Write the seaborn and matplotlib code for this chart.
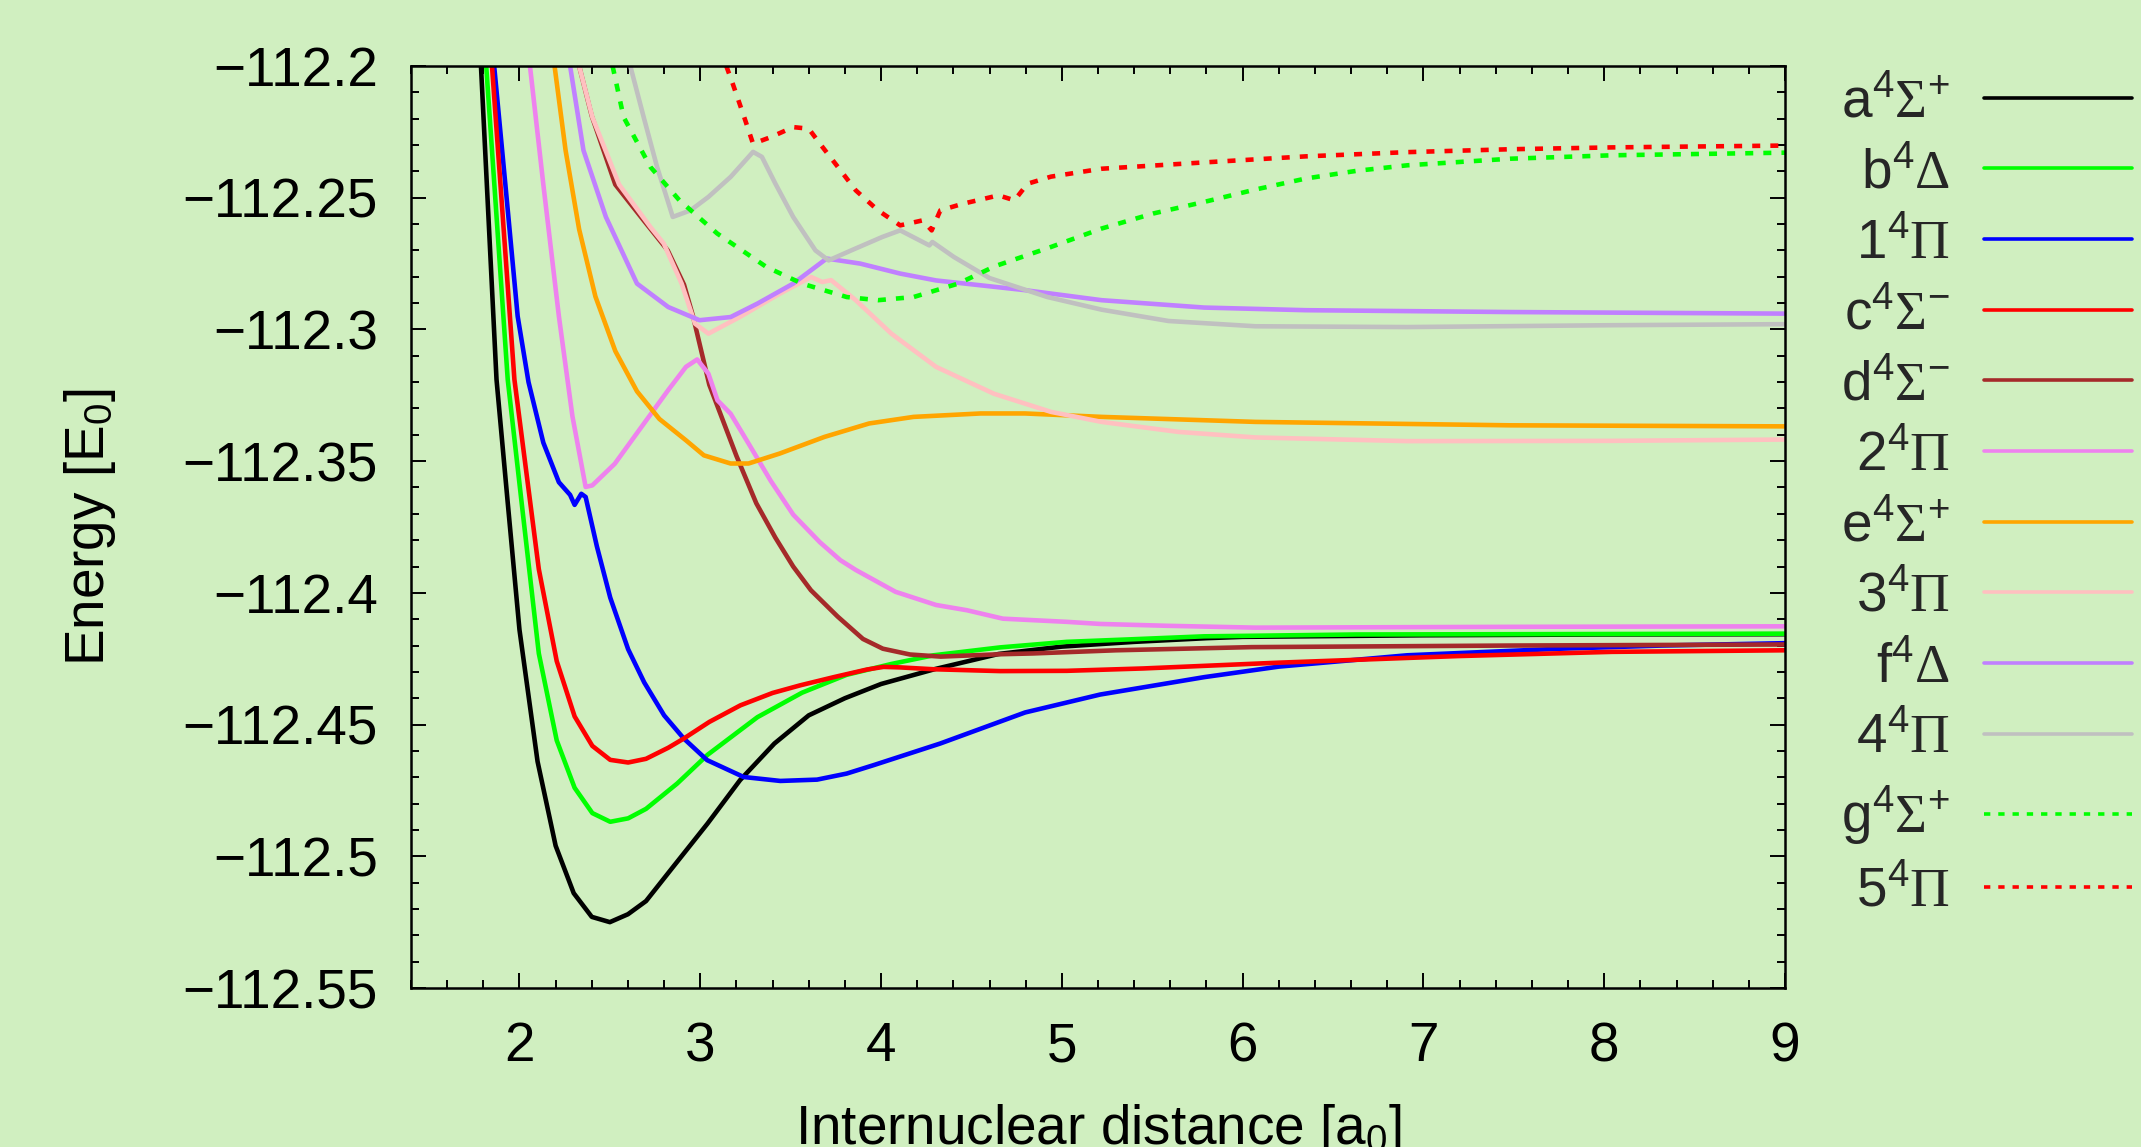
import matplotlib

matplotlib.use("Agg")
import matplotlib.pyplot as plt
import matplotlib.ticker as mticker
import seaborn as sns

# key labels, in the order gnuplot draws them
labels = [
    r"a$^{\mathsf{4}}\Sigma^{\mathsf{+}}$",
    r"b$^{\mathsf{4}}\Delta$",
    r"1$^{\mathsf{4}}\Pi$",
    r"c$^{\mathsf{4}}\Sigma^{\mathsf{-}}$",
    r"d$^{\mathsf{4}}\Sigma^{\mathsf{-}}$",
    r"2$^{\mathsf{4}}\Pi$",
    r"e$^{\mathsf{4}}\Sigma^{\mathsf{+}}$",
    r"3$^{\mathsf{4}}\Pi$",
    r"f$^{\mathsf{4}}\Delta$",
    r"4$^{\mathsf{4}}\Pi$",
    r"g$^{\mathsf{4}}\Sigma^{\mathsf{+}}$",
    r"5$^{\mathsf{4}}\Pi$",
]
colors = ["#000000", "#00ff00", "#0000ff", "#ff0000", "#a52a2a", "#ee82ee",
          "#ffa500", "#ffc0c0", "#c080ff", "#c0c0c0", "#00ff00", "#ff0000"]
dotted = [False] * 10 + [True, True]

# potential energy curves (r in a0, E in hartree)
a_r = [1.787, 1.873, 1.934, 2.0, 2.1, 2.2, 2.3, 2.4, 2.5, 2.6, 2.7, 2.85, 3.04, 3.22,
       3.41, 3.6, 3.8, 4.0, 4.3, 4.65, 5.0, 5.4, 5.8, 6.0, 7.0, 8.0, 9.0]
a_e = [-112.200, -112.319, -112.365, -112.414, -112.464, -112.496, -112.514, -112.523,
       -112.525, -112.522, -112.517, -112.504, -112.4876, -112.4711, -112.4572,
       -112.4465, -112.4400, -112.4346, -112.4289, -112.4232, -112.4204, -112.4186,
       -112.4172, -112.4167, -112.4161, -112.4158, -112.4157]

b_r = [1.816, 1.935, 2.009, 2.107, 2.206, 2.305, 2.403, 2.502, 2.601, 2.70, 2.872,
       3.04, 3.316, 3.563, 3.81, 4.057, 4.29, 4.659, 5.027, 5.396, 5.787, 6.04, 6.63, 9.0]
b_e = [-112.200, -112.319, -112.364, -112.423, -112.456, -112.474, -112.4836, -112.4869,
       -112.4856, -112.4820, -112.4724, -112.4615, -112.4472, -112.4379, -112.4311,
       -112.4270, -112.4237, -112.4207, -112.4186, -112.4176, -112.4165, -112.4163,
       -112.4158, -112.4155]

p1_r = [1.86, 1.922, 1.99, 2.05, 2.132, 2.218, 2.28, 2.305, 2.342, 2.366, 2.428, 2.502,
        2.601, 2.69, 2.80, 2.909, 3.038, 3.24, 3.443, 3.646, 3.81, 3.959, 4.327,
        4.797, 5.212, 5.787, 6.2, 6.91, 7.76, 8.32, 9.0]
p1_e = [-112.200, -112.245, -112.295, -112.320, -112.343, -112.358, -112.3628, -112.3666,
        -112.3624, -112.3636, -112.3823, -112.4018, -112.4214, -112.4340, -112.4465,
        -112.4553, -112.4635, -112.4699, -112.4714, -112.4709, -112.4686, -112.4654,
        -112.4572, -112.4454, -112.4386, -112.4320, -112.4280, -112.4237, -112.4212,
        -112.4200, -112.4191]

c_r = [1.848, 1.972, 2.107, 2.206, 2.305, 2.403, 2.502, 2.601, 2.70, 2.823, 2.909, 3.05,
       3.222, 3.40, 3.553, 3.738, 3.922, 4.014, 4.106, 4.29, 4.659, 5.027, 5.45, 6.2, 7.19,
       8.04, 9.0]
c_e = [-112.200, -112.319, -112.391, -112.4259, -112.4469, -112.4581, -112.4634,
       -112.4644, -112.4630, -112.4588, -112.4553, -112.4490, -112.4427, -112.4380,
       -112.4351, -112.4320, -112.4291, -112.4281, -112.4283, -112.4290, -112.4297,
       -112.4296, -112.4287, -112.4265, -112.4240, -112.4224, -112.4218]

d_r = [2.33, 2.40, 2.53, 2.68, 2.82, 2.91, 2.96, 3.05, 3.2, 3.31, 3.415, 3.514, 3.612,
       3.76, 3.90, 4.01, 4.16, 4.33, 4.66, 4.84, 5.3, 6.05, 7.48, 9.0]
d_e = [-112.200, -112.219, -112.245, -112.258, -112.270, -112.283, -112.295, -112.321,
       -112.348, -112.366, -112.379, -112.390, -112.399, -112.409, -112.4175, -112.4212,
       -112.4234, -112.4242, -112.4233, -112.4230, -112.4218, -112.4206, -112.4200,
       -112.4196]

p2_r = [2.058, 2.132, 2.218, 2.293, 2.366, 2.403, 2.527, 2.675, 2.823, 2.921, 2.983,
        3.045, 3.095, 3.168, 3.267, 3.39, 3.514, 3.662, 3.775, 3.86, 4.08, 4.304, 4.475,
        4.674, 5.027, 5.212, 5.58, 6.07, 7.48, 9.0]
p2_e = [-112.200, -112.245, -112.295, -112.333, -112.3598, -112.3592, -112.351, -112.337,
        -112.323, -112.3142, -112.3114, -112.3168, -112.3269, -112.332, -112.3433,
        -112.3575, -112.3703, -112.3808, -112.3876, -112.3913, -112.3996, -112.4046,
        -112.4066, -112.4098, -112.4110, -112.4118, -112.4125, -112.4132, -112.4129,
        -112.4127]

e_r = [2.194, 2.255, 2.33, 2.42, 2.53, 2.65, 2.774, 2.921, 3.02, 3.168, 3.267, 3.44,
       3.687, 3.934, 4.18, 4.55, 4.797, 5.22, 6.07, 7.48, 9.0]
e_e = [-112.200, -112.232, -112.262, -112.2875, -112.3082, -112.3235, -112.3340,
       -112.3421, -112.3478, -112.3509, -112.3509, -112.3471, -112.3408, -112.3357,
       -112.3332, -112.3319, -112.3319, -112.3332, -112.3351, -112.3364, -112.3368]

p3_r = [2.33, 2.403, 2.551, 2.724, 2.798, 2.897, 2.971, 3.045, 3.218, 3.44, 3.613, 3.675,
        3.724, 3.86, 4.057, 4.304, 4.624, 4.94, 5.22, 5.645, 6.07, 6.91, 8.04, 9.0]
p3_e = [-112.200, -112.2194, -112.245, -112.2611, -112.2674, -112.2826, -112.2978,
        -112.3016, -112.2953, -112.2864, -112.2801, -112.2820, -112.2813, -112.2889,
        -112.3016, -112.3142, -112.3244, -112.3313, -112.3351, -112.3389, -112.3410,
        -112.3424, -112.3423, -112.3418]

f_r = [2.28, 2.354, 2.478, 2.65, 2.823, 2.996, 3.168, 3.316, 3.514, 3.699, 3.884, 4.106,
       4.304, 4.797, 5.22, 5.787, 6.35, 7.48, 9.0]
f_e = [-112.200, -112.232, -112.2573, -112.2826, -112.2915, -112.2965, -112.2953,
       -112.2902, -112.2826, -112.2731, -112.2750, -112.2788, -112.2814, -112.2851,
       -112.2889, -112.2917, -112.2927, -112.2934, -112.2940]

p4_r = [2.613, 2.687, 2.761, 2.848, 2.946, 3.045, 3.168, 3.292, 3.341, 3.415, 3.514,
        3.637, 3.71, 3.835, 4.007, 4.106, 4.267, 4.284, 4.403, 4.60, 4.92, 5.22, 5.59,
        6.07, 6.91, 8.04, 9.0]
p4_e = [-112.200, -112.2194, -112.2383, -112.2573, -112.2548, -112.2497, -112.2421,
        -112.2326, -112.2345, -112.2446, -112.2573, -112.2700, -112.2738, -112.2700,
        -112.2649, -112.2624, -112.2681, -112.2668, -112.2725, -112.2805, -112.2877,
        -112.2925, -112.2968, -112.2988, -112.2991, -112.2984, -112.2980]

g_r = [2.515, 2.576, 2.724, 2.885, 3.094, 3.366, 3.563, 3.81, 3.983, 4.18, 4.427, 4.63,
       4.94, 5.22, 5.505, 5.787, 6.07, 6.35, 6.63, 6.91, 7.48, 8.04, 9.0]
g_e = [-112.200, -112.2194, -112.2383, -112.2510, -112.2636, -112.2763, -112.2826,
       -112.2877, -112.2889, -112.2877, -112.2826, -112.2760, -112.2687, -112.2617,
       -112.2560, -112.2516, -112.2469, -112.2427, -112.2398, -112.2377, -112.2352,
       -112.2339, -112.2329]

p5_r = [3.144, 3.181, 3.243, 3.292, 3.39, 3.514, 3.60, 3.662, 3.761, 3.86, 3.983, 4.106,
        4.23, 4.28, 4.328, 4.452, 4.65, 4.738, 4.81, 4.94, 5.22, 5.787, 6.35, 6.91, 7.48,
        8.04, 9.0]
p5_e = [-112.200, -112.207, -112.2194, -112.2295, -112.2270, -112.2232, -112.2238,
        -112.2295, -112.2383, -112.2472, -112.2548, -112.2605, -112.2586, -112.2624,
        -112.2548, -112.2523, -112.2491, -112.2510, -112.2447, -112.2420, -112.2390,
        -112.2366, -112.2343, -112.2327, -112.2316, -112.2309, -112.2302]

curves = [(a_r, a_e), (b_r, b_e), (p1_r, p1_e), (c_r, c_e), (d_r, d_e), (p2_r, p2_e),
          (e_r, e_e), (p3_r, p3_e), (f_r, f_e), (p4_r, p4_e), (g_r, g_e), (p5_r, p5_e)]

bg = "#d0efc0"
fs = 39.5
sns.set_theme(style="ticks")
plt.rcParams["font.family"] = ["Liberation Sans", "DejaVu Sans"]
plt.rcParams["mathtext.fontset"] = "custom"
plt.rcParams["mathtext.rm"] = "Liberation Serif"
plt.rcParams["mathtext.sf"] = "Liberation Sans"
plt.rcParams["mathtext.it"] = "Liberation Sans:italic"
plt.rcParams["axes.unicode_minus"] = True

fig = plt.figure(figsize=(21.41, 11.47), dpi=100, facecolor=bg)
ax = fig.add_axes([411 / 2141, 1 - 988 / 1147, (1785 - 411) / 2141, (988 - 66) / 1147])
ax.set_facecolor(bg)

for (r, e), lab, col, dot in zip(curves, labels, colors, dotted):
    sns.lineplot(x=r, y=e, ax=ax, color=col, linewidth=3.3, sort=False, estimator=None,
                 linestyle=(0, (1.75, 2.2)) if dot else "-", label=lab, legend=False)

ax.set_xlim(1.4, 9)
ax.set_ylim(-112.55, -112.2)
ax.xaxis.set_major_locator(mticker.MultipleLocator(1))
ax.xaxis.set_minor_locator(mticker.MultipleLocator(0.2))
ax.yaxis.set_major_locator(mticker.MultipleLocator(0.05))
ax.yaxis.set_minor_locator(mticker.MultipleLocator(0.01))
ax.yaxis.set_major_formatter(mticker.FuncFormatter(lambda v, _: f"{v:g}".replace("-", "\u2212")))
ax.tick_params(which="both", direction="in", top=True, right=True, width=1.4, color="black")
ax.tick_params(which="major", length=11, labelsize=fs, pad=24, labelcolor="black")
ax.tick_params(which="minor", length=5.5)
for sp in ax.spines.values():
    sp.set_linewidth(1.8)
    sp.set_color("black")

ax.set_xlabel(r"Internuclear distance [a$_{\mathsf{0}}$]", fontsize=fs, labelpad=21, color="black")
ax.set_ylabel(r"Energy [E$_{\mathsf{0}}$]", fontsize=fs, labelpad=46, color="black")

handles, labs = ax.get_legend_handles_labels()
leg = ax.legend(handles, labs, loc="upper right", bbox_to_anchor=(2132 / 2141, 1 - 77 / 1147),
                bbox_transform=fig.transFigure, frameon=False, markerfirst=False, fontsize=fs,
                handlelength=2.7, handletextpad=0.62, labelspacing=0.34, borderpad=0,
                borderaxespad=0)
for ln in leg.get_lines():
    ln.set_linewidth(2.6)

fig.savefig("out.png", dpi=100, facecolor=bg)
